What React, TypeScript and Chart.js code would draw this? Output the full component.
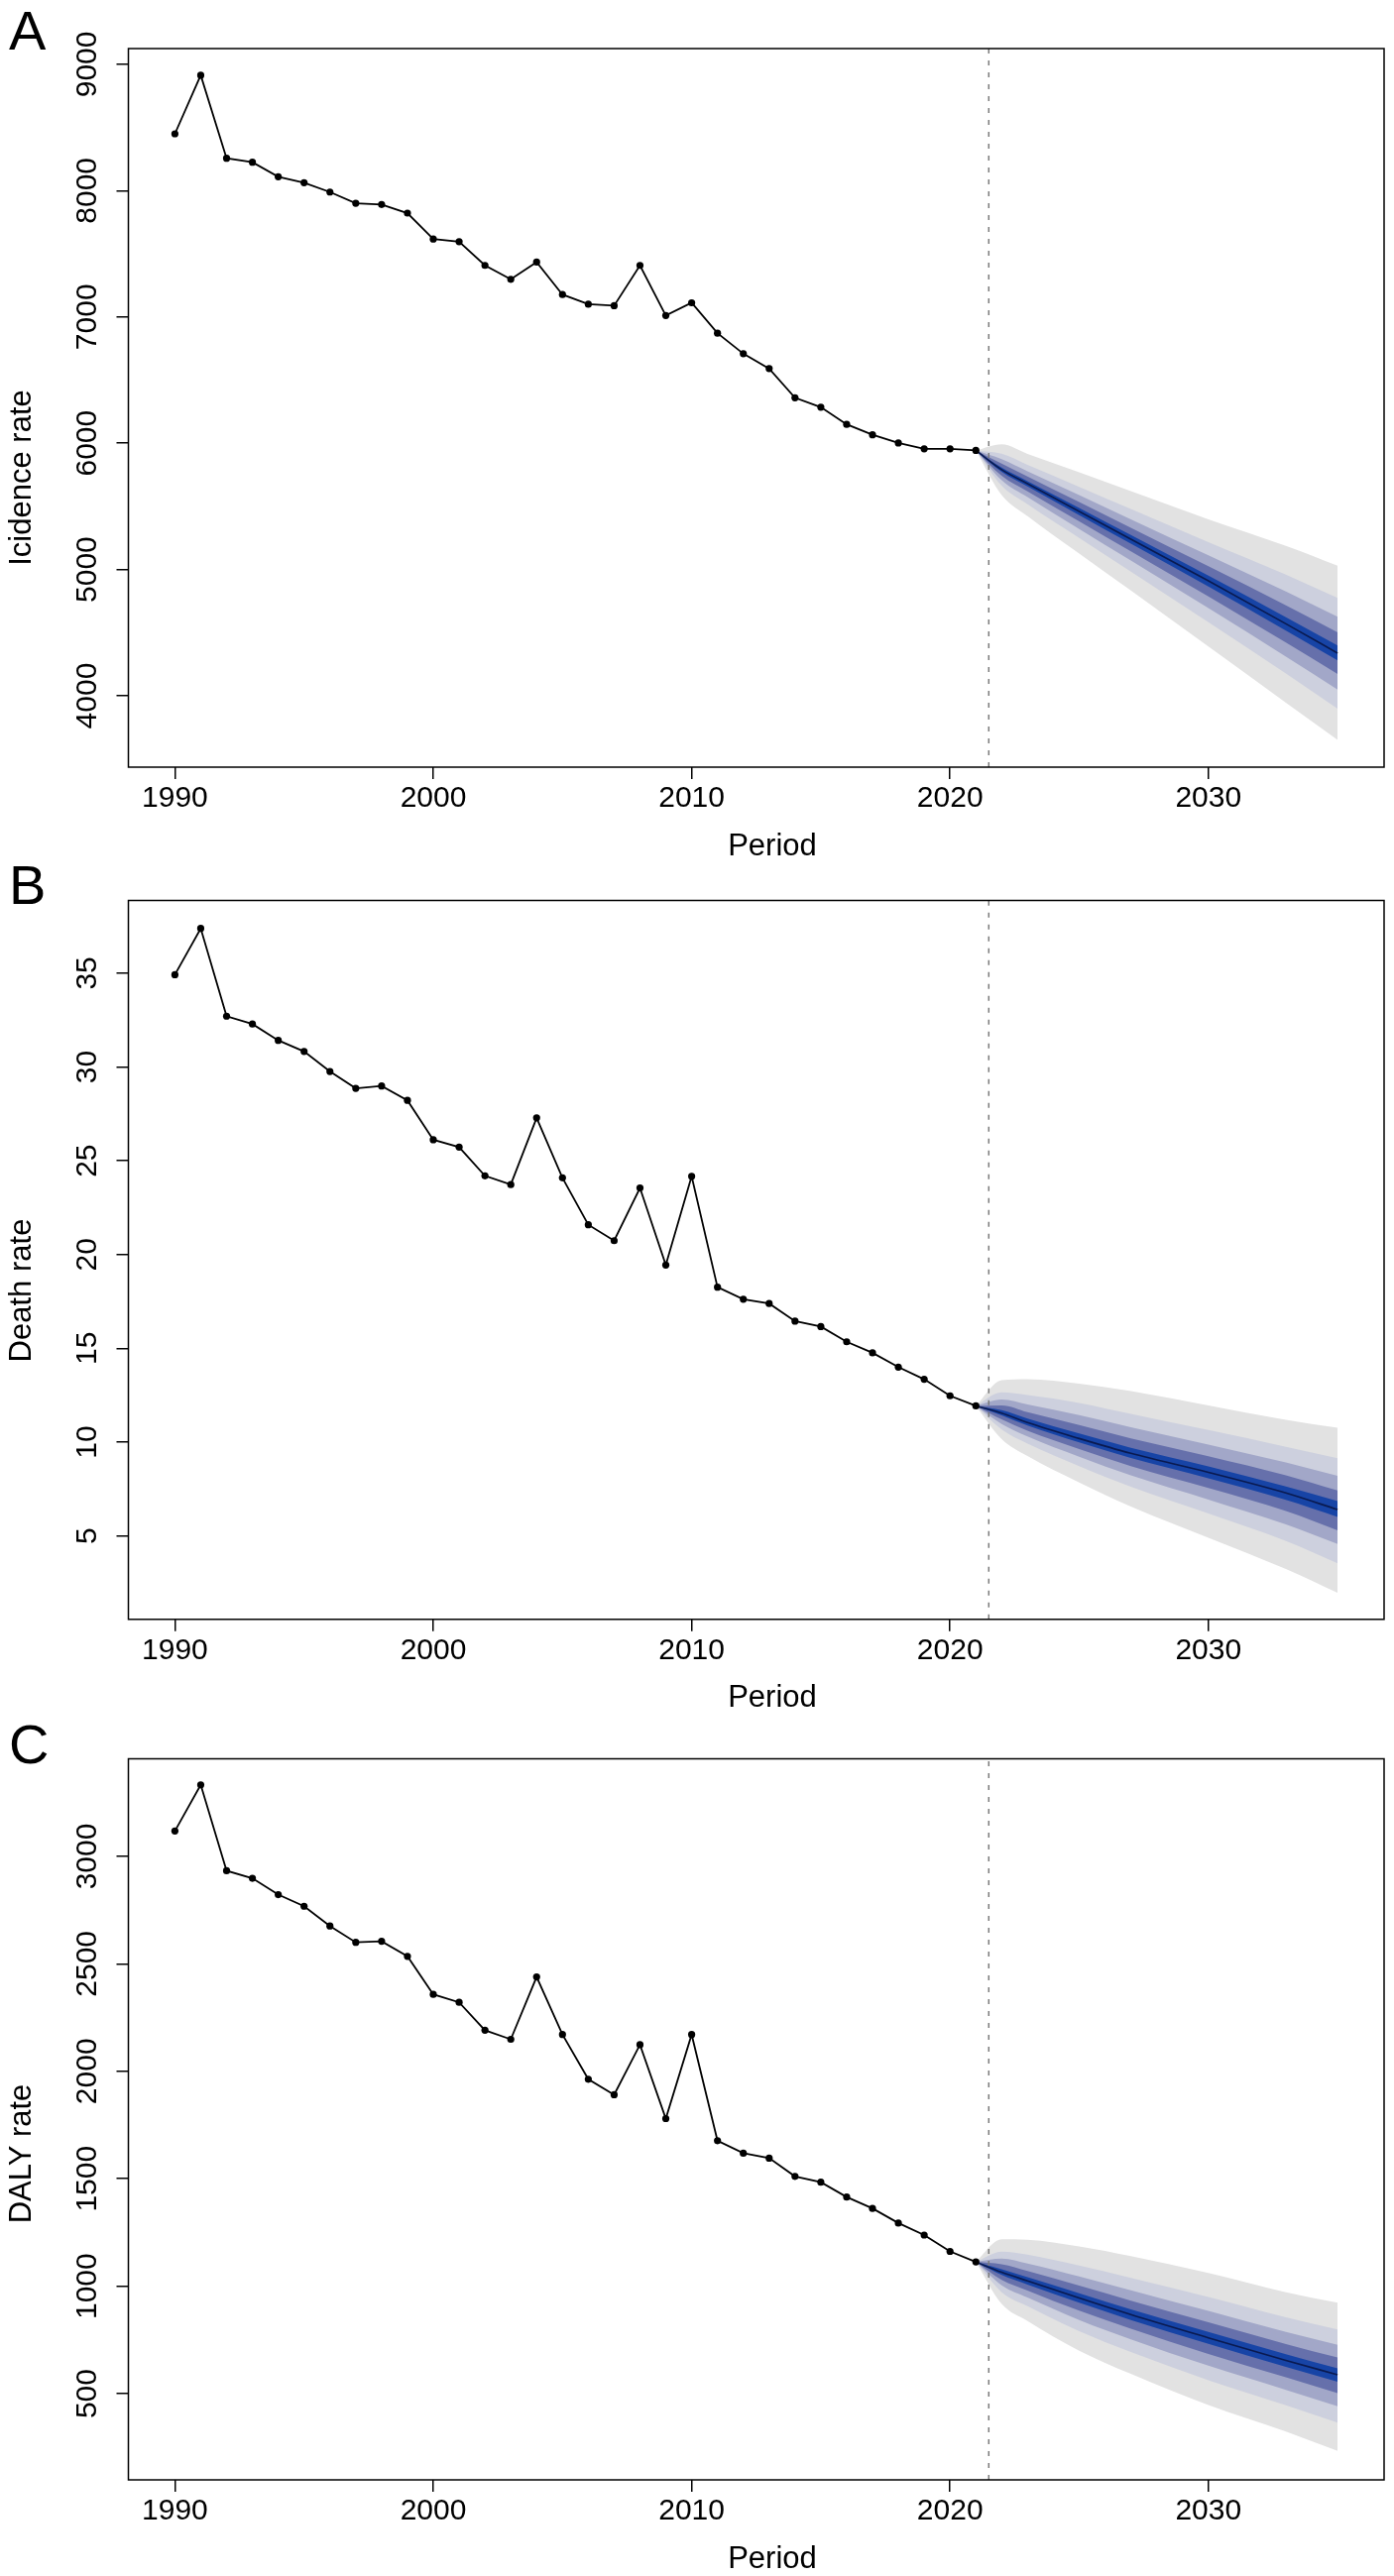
import React, { useEffect, useRef } from 'react';
import { Chart, registerables } from 'chart.js';

Chart.register(...registerables);

// ---------------- data ----------------
const YEARS = [
  1990, 1991, 1992, 1993, 1994, 1995, 1996, 1997, 1998, 1999,
  2000, 2001, 2002, 2003, 2004, 2005, 2006, 2007, 2008, 2009,
  2010, 2011, 2012, 2013, 2014, 2015, 2016, 2017, 2018, 2019,
  2020, 2021,
];
const PROJ_YEARS = [2021, 2022, 2023, 2025, 2027, 2030, 2033, 2035];
const X_TICKS = [1990, 2000, 2010, 2020, 2030];
const DIVIDER_YEAR = 2021.5;

// A: incidence
const A_OBSERVED = [
  8450, 8914, 8256, 8225, 8110, 8063, 7989, 7900, 7890, 7822,
  7617, 7596, 7408, 7298, 7434, 7177, 7101, 7089, 7408, 7011,
  7112, 6871, 6709, 6591, 6360, 6285, 6149, 6067, 6002, 5956,
  5956, 5943,
];
const A_Y_TICKS = [4000, 5000, 6000, 7000, 8000, 9000];
const A_CENTER = [5943, 5790, 5680, 5460, 5240, 4910, 4570, 4338];
const A_OUTER_HI = [5943, 5992, 5916, 5770, 5621, 5398, 5188, 5031];
const A_OUTER_LO = [5943, 5590, 5422, 5126, 4833, 4390, 3945, 3651];
const A_BAND2_HI = [5943, 5917, 5829, 5655, 5480, 5217, 4959, 4775];
const A_BAND2_LO = [5943, 5664, 5517, 5250, 4984, 4582, 4176, 3898];
const A_BAND3_HI = [5943, 5874, 5778, 5589, 5398, 5113, 4826, 4625];
const A_BAND3_LO = [5943, 5707, 5573, 5321, 5071, 4694, 4311, 4050];
const A_BAND4_HI = [5943, 5838, 5736, 5534, 5331, 5026, 4717, 4503];
const A_BAND4_LO = [5943, 5742, 5619, 5381, 5143, 4786, 4421, 4173];
const A_INNER_HI = [5943, 5807, 5700, 5487, 5273, 4952, 4623, 4398];
const A_INNER_LO = [5943, 5773, 5658, 5431, 5205, 4865, 4516, 4280];

// B: death
const B_OBSERVED = [
  34.92, 37.39, 32.71, 32.29, 31.42, 30.83, 29.76, 28.86, 28.99, 28.22,
  26.12, 25.73, 24.2, 23.73, 27.29, 24.09, 21.59, 20.74, 23.55, 19.44,
  24.17, 18.26, 17.62, 17.39, 16.45, 16.16, 15.35, 14.76, 14.0, 13.35,
  12.47, 11.93,
];
const B_Y_TICKS = [5, 10, 15, 20, 25, 30, 35];
const B_CENTER = [11.93, 11.54, 11.04, 10.19, 9.4, 8.39, 7.29, 6.4];
const B_OUTER_HI = [11.93, 13.3, 13.36, 13.12, 12.72, 11.96, 11.19, 10.76];
const B_OUTER_LO = [11.93, 10.16, 9.26, 7.85, 6.57, 4.9, 3.23, 1.96];
const B_BAND2_HI = [11.93, 12.65, 12.51, 12.09, 11.5, 10.64, 9.75, 9.14];
const B_BAND2_LO = [11.93, 10.67, 9.92, 8.72, 7.62, 6.19, 4.73, 3.54];
const B_BAND3_HI = [11.93, 12.27, 12.01, 11.44, 10.79, 9.87, 8.91, 8.2];
const B_BAND3_LO = [11.93, 10.97, 10.3, 9.22, 8.23, 6.94, 5.61, 4.57];
const B_BAND4_HI = [11.93, 11.96, 11.6, 10.91, 10.2, 9.25, 8.23, 7.42];
const B_BAND4_LO = [11.93, 11.21, 10.61, 9.63, 8.72, 7.55, 6.32, 5.29];
const B_INNER_HI = [11.93, 11.7, 11.25, 10.46, 9.7, 8.71, 7.64, 6.86];
const B_INNER_LO = [11.93, 11.42, 10.88, 9.98, 9.15, 8.07, 6.92, 6.01];

// C: DALY
const C_OBSERVED = [
  3118, 3333, 2933, 2898, 2822, 2768, 2676, 2600, 2605, 2535,
  2358, 2321, 2191, 2149, 2439, 2171, 1963, 1891, 2124, 1780,
  2171, 1677, 1619, 1596, 1511, 1484, 1415, 1362, 1294, 1238,
  1162, 1113,
];
const C_Y_TICKS = [500, 1000, 1500, 2000, 2500, 3000];
const C_CENTER = [1113, 1065, 1025, 945, 868, 760, 655, 588];
const C_OUTER_HI = [1113, 1218, 1216, 1185, 1140, 1062, 972, 923];
const C_OUTER_LO = [1113, 917, 838, 700, 592, 447, 324, 234];
const C_BAND2_HI = [1113, 1161, 1147, 1096, 1039, 950, 855, 799];
const C_BAND2_LO = [1113, 972, 907, 791, 694, 563, 446, 365];
const C_BAND3_HI = [1113, 1128, 1105, 1045, 981, 885, 787, 727];
const C_BAND3_LO = [1113, 1004, 947, 843, 753, 630, 518, 441];
const C_BAND4_HI = [1113, 1102, 1071, 1003, 933, 832, 731, 668];
const C_BAND4_LO = [1113, 1029, 980, 886, 802, 685, 576, 503];
const C_INNER_HI = [1113, 1079, 1042, 967, 892, 787, 684, 618];
const C_INNER_LO = [1113, 1052, 1008, 923, 843, 732, 625, 556];

// ---------------- styling ----------------
const FONT = '"Liberation Sans", Arial, Helvetica, sans-serif';
const BAND_COLORS = ['#e2e2e2', '#cdd0de', '#a2a7c8', '#6670ab', '#1744a6'];
const CENTER_COLOR = '#0a1a50';
const X_MIN = 1988.2;
const X_MAX = 2036.8;
const PAGE_W = 1406;

type Panel = {
  letter: string;
  yLabel: string;
  top: number;
  height: number;
  boxTop: number;
  boxBottom: number;
  yMin: number;
  yMax: number;
  yTicks: number[];
  observed: number[];
  center: number[];
  bands: number[][][];
  yLabelCenter: number;
  letterBaseline: number;
};

const PANELS: Panel[] = [
  {
    letter: 'A', yLabel: 'Icidence rate', top: 0, height: 866, boxTop: 49, boxBottom: 774,
    yMin: 3435, yMax: 9125, yTicks: A_Y_TICKS, observed: A_OBSERVED, center: A_CENTER,
    bands: [[A_OUTER_HI, A_OUTER_LO], [A_BAND2_HI, A_BAND2_LO], [A_BAND3_HI, A_BAND3_LO], [A_BAND4_HI, A_BAND4_LO], [A_INNER_HI, A_INNER_LO]],
    yLabelCenter: 482, letterBaseline: 50,
  },
  {
    letter: 'B', yLabel: 'Death rate', top: 866, height: 866, boxTop: 42.5, boxBottom: 767.8,
    yMin: 0.55, yMax: 38.88, yTicks: B_Y_TICKS, observed: B_OBSERVED, center: B_CENTER,
    bands: [[B_OUTER_HI, B_OUTER_LO], [B_BAND2_HI, B_BAND2_LO], [B_BAND3_HI, B_BAND3_LO], [B_BAND4_HI, B_BAND4_LO], [B_INNER_HI, B_INNER_LO]],
    yLabelCenter: 436, letterBaseline: 46,
  },
  {
    letter: 'C', yLabel: 'DALY rate', top: 1732, height: 867, boxTop: 42.5, boxBottom: 770,
    yMin: 99, yMax: 3454, yTicks: C_Y_TICKS, observed: C_OBSERVED, center: C_CENTER,
    bands: [[C_OUTER_HI, C_OUTER_LO], [C_BAND2_HI, C_BAND2_LO], [C_BAND3_HI, C_BAND3_LO], [C_BAND4_HI, C_BAND4_LO], [C_INNER_HI, C_INNER_LO]],
    yLabelCenter: 441, letterBaseline: 47,
  },
];

function pts(xs: number[], ys: number[]) {
  return xs.map((x, i) => ({ x, y: ys[i] }));
}

function makeTextPlugin(p: Panel) {
  return {
    id: 'rStyleText' + p.letter,
    afterDraw(chart: any) {
      const { ctx, chartArea } = chart;
      const yScale = chart.scales.y;
      ctx.save();
      // frame
      ctx.strokeStyle = '#000';
      ctx.lineWidth = 1.5;
      ctx.strokeRect(chartArea.left, chartArea.top, chartArea.right - chartArea.left, chartArea.bottom - chartArea.top);
      // y tick labels, rotated (R style)
      ctx.fillStyle = '#000';
      ctx.font = `30px ${FONT}`;
      ctx.textAlign = 'center';
      ctx.textBaseline = 'middle';
      for (const t of yScale.ticks) {
        const py = yScale.getPixelForValue(t.value);
        ctx.save();
        ctx.translate(89, py);
        ctx.rotate(-Math.PI / 2);
        ctx.fillText(String(t.value), 0, 0);
        ctx.restore();
      }
      // y title
      ctx.font = `31px ${FONT}`;
      ctx.save();
      ctx.translate(22, p.yLabelCenter);
      ctx.rotate(-Math.PI / 2);
      ctx.fillText(p.yLabel, 0, 0);
      ctx.restore();
      // x title
      ctx.fillText('Period', 779, chartArea.bottom + 80);
      // panel letter
      ctx.font = `56px ${FONT}`;
      ctx.textAlign = 'left';
      ctx.textBaseline = 'alphabetic';
      ctx.fillText(p.letter, 9, p.letterBaseline);
      ctx.restore();
    },
  };
}

function buildChart(canvas: HTMLCanvasElement, p: Panel) {
  const datasets: any[] = [];
  p.bands.forEach((pair, i) => {
    datasets.push({
      data: pts(PROJ_YEARS, pair[0]),
      fill: '+1',
      backgroundColor: BAND_COLORS[i],
      borderWidth: 0,
      borderColor: 'rgba(0,0,0,0)',
      pointRadius: 0,
      cubicInterpolationMode: 'monotone',
      order: 20 - i,
    });
    datasets.push({
      data: pts(PROJ_YEARS, pair[1]),
      fill: false,
      borderWidth: 0,
      borderColor: 'rgba(0,0,0,0)',
      pointRadius: 0,
      cubicInterpolationMode: 'monotone',
      order: 20 - i,
    });
  });
  datasets.push({
    data: pts(PROJ_YEARS, p.center),
    fill: false,
    borderColor: CENTER_COLOR,
    borderWidth: 1.6,
    pointRadius: 0,
    cubicInterpolationMode: 'monotone',
    order: 5,
  });
  datasets.push({
    data: [{ x: DIVIDER_YEAR, y: p.yMin }, { x: DIVIDER_YEAR, y: p.yMax }],
    fill: false,
    borderColor: '#7a7a7a',
    borderWidth: 1.5,
    borderDash: [5, 7],
    pointRadius: 0,
    order: 3,
  });
  datasets.push({
    data: pts(YEARS, p.observed),
    fill: false,
    borderColor: '#000',
    borderWidth: 1.8,
    pointRadius: 3.6,
    pointBackgroundColor: '#000',
    pointBorderWidth: 0,
    order: 1,
  });

  const xHeight = p.height - p.boxBottom;
  return new Chart(canvas, {
    type: 'line',
    data: { datasets },
    options: {
      animation: false,
      responsive: false,
      events: [],
      layout: { padding: { left: 0, right: PAGE_W - 1396, top: p.boxTop, bottom: 0 } },
      plugins: {
        legend: { display: false },
        tooltip: { enabled: false },
        title: { display: false },
      },
      elements: { line: { tension: 0 } },
      scales: {
        x: {
          type: 'linear',
          min: X_MIN,
          max: X_MAX,
          afterBuildTicks: (s: any) => { s.ticks = X_TICKS.map((v) => ({ value: v })); },
          afterFit: (s: any) => { s.height = xHeight; },
          border: { display: false },
          grid: { display: true, drawOnChartArea: false, drawTicks: true, tickLength: 12, color: '#000', lineWidth: 1.5 },
          ticks: {
            color: '#000',
            font: { family: FONT, size: 30 },
            padding: 2,
            maxRotation: 0,
            minRotation: 0,
            autoSkip: false,
            callback: (v: any) => String(v),
          },
        },
        y: {
          type: 'linear',
          min: p.yMin,
          max: p.yMax,
          afterBuildTicks: (s: any) => { s.ticks = p.yTicks.map((v) => ({ value: v })); },
          afterFit: (s: any) => { s.width = 129.5; },
          border: { display: false },
          grid: { display: true, drawOnChartArea: false, drawTicks: true, tickLength: 12, color: '#000', lineWidth: 1.5 },
          ticks: { display: false },
        },
      },
    } as any,
    plugins: [makeTextPlugin(p)],
  });
}

export default function App() {
  const r0 = useRef<HTMLCanvasElement>(null);
  const r1 = useRef<HTMLCanvasElement>(null);
  const r2 = useRef<HTMLCanvasElement>(null);
  const refs = [r0, r1, r2];

  useEffect(() => {
    document.body.style.margin = '0';
    document.body.style.background = '#fff';
    const charts = PANELS.map((p, i) => buildChart(refs[i].current as HTMLCanvasElement, p));
    return () => { charts.forEach((c) => c.destroy()); };
  }, []);

  return (
    <div style={{ position: 'relative', width: PAGE_W, height: 2599, background: '#fff' }}>
      {PANELS.map((p, i) => (
        <canvas
          key={p.letter}
          ref={refs[i]}
          width={PAGE_W}
          height={p.height}
          style={{ position: 'absolute', left: 0, top: p.top, width: PAGE_W, height: p.height }}
        />
      ))}
    </div>
  );
}
